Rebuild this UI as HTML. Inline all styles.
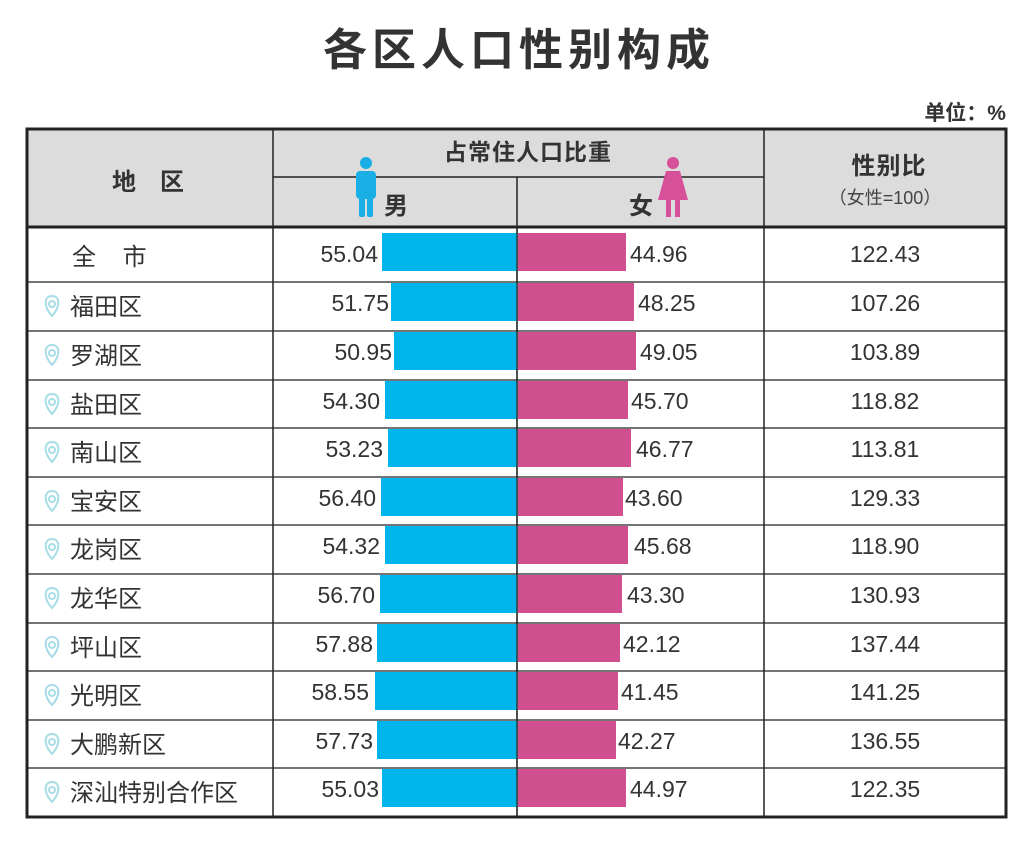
<!DOCTYPE html>
<html><head><meta charset="utf-8"><style>
body{margin:0;background:#fff;width:1027px;height:837px;overflow:hidden}
svg text{font-family:"Liberation Sans","Noto Sans CJK SC",sans-serif}
</style></head><body>
<svg width="1027" height="837" xmlns="http://www.w3.org/2000/svg">
<text x="519" y="65" text-anchor="middle" font-size="44" font-weight="bold" fill="#333" letter-spacing="5">各区人口性别构成</text>
<text x="1006" y="120" text-anchor="end" font-size="21" font-weight="bold" fill="#333">单位：%</text>
<rect x="27" y="129" width="979" height="98" fill="#dcdcdc"/>
<g stroke="#222" stroke-width="1.5" fill="none">
<line x1="273" y1="129" x2="273" y2="817"/>
<line x1="764" y1="129" x2="764" y2="817"/>
<line x1="517" y1="177" x2="517" y2="817"/>
<line x1="273" y1="177" x2="764" y2="177"/>
</g>
<g stroke="#222" stroke-width="1.2">
<line x1="27" y1="282" x2="1006" y2="282"/><line x1="27" y1="331" x2="1006" y2="331"/>
<line x1="27" y1="380" x2="1006" y2="380"/><line x1="27" y1="428" x2="1006" y2="428"/>
<line x1="27" y1="477" x2="1006" y2="477"/><line x1="27" y1="525" x2="1006" y2="525"/>
<line x1="27" y1="574" x2="1006" y2="574"/><line x1="27" y1="623" x2="1006" y2="623"/>
<line x1="27" y1="671" x2="1006" y2="671"/><line x1="27" y1="720" x2="1006" y2="720"/>
<line x1="27" y1="768" x2="1006" y2="768"/>
</g>
<line x1="27" y1="227" x2="1006" y2="227" stroke="#222" stroke-width="3"/>
<rect x="27" y="129" width="979" height="688" fill="none" stroke="#222" stroke-width="3"/>
<text x="148" y="190" text-anchor="middle" font-size="24" font-weight="bold" fill="#333">地　区</text>
<text x="528" y="160" text-anchor="middle" font-size="23" font-weight="bold" fill="#333" letter-spacing="1">占常住人口比重</text>
<text x="889" y="174" text-anchor="middle" font-size="24" font-weight="bold" fill="#333" letter-spacing="1">性别比</text>
<text x="885" y="204" text-anchor="middle" font-size="18" fill="#444">（女性=100）</text>
<text x="396" y="214" text-anchor="middle" font-size="24" font-weight="bold" fill="#333">男</text>
<text x="641" y="214" text-anchor="middle" font-size="24" font-weight="bold" fill="#333">女</text>
<g fill="#1aaee6"><circle cx="366" cy="163" r="6"/><rect x="356" y="171" width="20" height="28" rx="4"/><rect x="359" y="190" width="6" height="27" rx="2"/><rect x="367" y="190" width="6" height="27" rx="2"/></g>
<g fill="#d6509a"><circle cx="673" cy="163" r="6"/><polygon points="666,171 680,171 688,200 658,200"/><rect x="666" y="196" width="5" height="21"/><rect x="675" y="196" width="5" height="21"/></g>
<g font-size="24" fill="#333">
<text x="72" y="265" letter-spacing="10">全 市</text>
</g>
<g font-size="23" fill="#333">
<rect x="382" y="233" width="135" height="38" fill="#00b4ec"/><rect x="518" y="233" width="108" height="38" fill="#d04f8f"/>
<text x="378" y="262" text-anchor="end">55.04</text><text x="630" y="262">44.96</text><text x="885" y="262" text-anchor="middle">122.43</text>
<g transform="translate(0,282)"><rect x="391" y="1" width="126" height="38" fill="#00b4ec"/><rect x="518" y="1" width="116" height="38" fill="#d04f8f"/><text x="389" y="29" text-anchor="end">51.75</text><text x="638" y="29">48.25</text><text x="885" y="29" text-anchor="middle">107.26</text><text x="70" y="33" font-size="24">福田区</text></g>
<g transform="translate(0,331)"><rect x="394" y="1" width="123" height="38" fill="#00b4ec"/><rect x="518" y="1" width="118" height="38" fill="#d04f8f"/><text x="392" y="29" text-anchor="end">50.95</text><text x="640" y="29">49.05</text><text x="885" y="29" text-anchor="middle">103.89</text><text x="70" y="33" font-size="24">罗湖区</text></g>
<g transform="translate(0,380)"><rect x="385" y="1" width="132" height="38" fill="#00b4ec"/><rect x="518" y="1" width="110" height="38" fill="#d04f8f"/><text x="380" y="29" text-anchor="end">54.30</text><text x="631" y="29">45.70</text><text x="885" y="29" text-anchor="middle">118.82</text><text x="70" y="33" font-size="24">盐田区</text></g>
<g transform="translate(0,428)"><rect x="388" y="1" width="129" height="38" fill="#00b4ec"/><rect x="518" y="1" width="113" height="38" fill="#d04f8f"/><text x="383" y="29" text-anchor="end">53.23</text><text x="636" y="29">46.77</text><text x="885" y="29" text-anchor="middle">113.81</text><text x="70" y="33" font-size="24">南山区</text></g>
<g transform="translate(0,477)"><rect x="381" y="1" width="136" height="38" fill="#00b4ec"/><rect x="518" y="1" width="105" height="38" fill="#d04f8f"/><text x="376" y="29" text-anchor="end">56.40</text><text x="625" y="29">43.60</text><text x="885" y="29" text-anchor="middle">129.33</text><text x="70" y="33" font-size="24">宝安区</text></g>
<g transform="translate(0,525)"><rect x="385" y="1" width="132" height="38" fill="#00b4ec"/><rect x="518" y="1" width="110" height="38" fill="#d04f8f"/><text x="380" y="29" text-anchor="end">54.32</text><text x="634" y="29">45.68</text><text x="885" y="29" text-anchor="middle">118.90</text><text x="70" y="33" font-size="24">龙岗区</text></g>
<g transform="translate(0,574)"><rect x="380" y="1" width="137" height="38" fill="#00b4ec"/><rect x="518" y="1" width="104" height="38" fill="#d04f8f"/><text x="375" y="29" text-anchor="end">56.70</text><text x="627" y="29">43.30</text><text x="885" y="29" text-anchor="middle">130.93</text><text x="70" y="33" font-size="24">龙华区</text></g>
<g transform="translate(0,623)"><rect x="377" y="1" width="140" height="38" fill="#00b4ec"/><rect x="518" y="1" width="102" height="38" fill="#d04f8f"/><text x="373" y="29" text-anchor="end">57.88</text><text x="623" y="29">42.12</text><text x="885" y="29" text-anchor="middle">137.44</text><text x="70" y="33" font-size="24">坪山区</text></g>
<g transform="translate(0,671)"><rect x="375" y="1" width="142" height="38" fill="#00b4ec"/><rect x="518" y="1" width="100" height="38" fill="#d04f8f"/><text x="369" y="29" text-anchor="end">58.55</text><text x="621" y="29">41.45</text><text x="885" y="29" text-anchor="middle">141.25</text><text x="70" y="33" font-size="24">光明区</text></g>
<g transform="translate(0,720)"><rect x="377" y="1" width="140" height="38" fill="#00b4ec"/><rect x="518" y="1" width="98" height="38" fill="#d04f8f"/><text x="373" y="29" text-anchor="end">57.73</text><text x="618" y="29">42.27</text><text x="885" y="29" text-anchor="middle">136.55</text><text x="70" y="33" font-size="24">大鹏新区</text></g>
<g transform="translate(0,768)"><rect x="382" y="1" width="135" height="38" fill="#00b4ec"/><rect x="518" y="1" width="108" height="38" fill="#d04f8f"/><text x="379" y="29" text-anchor="end">55.03</text><text x="630" y="29">44.97</text><text x="885" y="29" text-anchor="middle">122.35</text><text x="70" y="33" font-size="24">深汕特别合作区</text></g>
</g>
<g fill="none" stroke="#a8dde6" stroke-width="2">
<g transform="translate(52,306)"><path d="M0,10 C-9,0 -8,-10 0,-10 C8,-10 9,0 0,10Z"/><circle cx="0" cy="-2" r="3"/></g>
<g transform="translate(52,355)"><path d="M0,10 C-9,0 -8,-10 0,-10 C8,-10 9,0 0,10Z"/><circle cx="0" cy="-2" r="3"/></g>
<g transform="translate(52,404)"><path d="M0,10 C-9,0 -8,-10 0,-10 C8,-10 9,0 0,10Z"/><circle cx="0" cy="-2" r="3"/></g>
<g transform="translate(52,452)"><path d="M0,10 C-9,0 -8,-10 0,-10 C8,-10 9,0 0,10Z"/><circle cx="0" cy="-2" r="3"/></g>
<g transform="translate(52,501)"><path d="M0,10 C-9,0 -8,-10 0,-10 C8,-10 9,0 0,10Z"/><circle cx="0" cy="-2" r="3"/></g>
<g transform="translate(52,549)"><path d="M0,10 C-9,0 -8,-10 0,-10 C8,-10 9,0 0,10Z"/><circle cx="0" cy="-2" r="3"/></g>
<g transform="translate(52,598)"><path d="M0,10 C-9,0 -8,-10 0,-10 C8,-10 9,0 0,10Z"/><circle cx="0" cy="-2" r="3"/></g>
<g transform="translate(52,647)"><path d="M0,10 C-9,0 -8,-10 0,-10 C8,-10 9,0 0,10Z"/><circle cx="0" cy="-2" r="3"/></g>
<g transform="translate(52,695)"><path d="M0,10 C-9,0 -8,-10 0,-10 C8,-10 9,0 0,10Z"/><circle cx="0" cy="-2" r="3"/></g>
<g transform="translate(52,744)"><path d="M0,10 C-9,0 -8,-10 0,-10 C8,-10 9,0 0,10Z"/><circle cx="0" cy="-2" r="3"/></g>
<g transform="translate(52,792)"><path d="M0,10 C-9,0 -8,-10 0,-10 C8,-10 9,0 0,10Z"/><circle cx="0" cy="-2" r="3"/></g>
</g>
<line x1="517" y1="227" x2="517" y2="817" stroke="#222" stroke-width="1.2"/>
</svg>
</body></html>
